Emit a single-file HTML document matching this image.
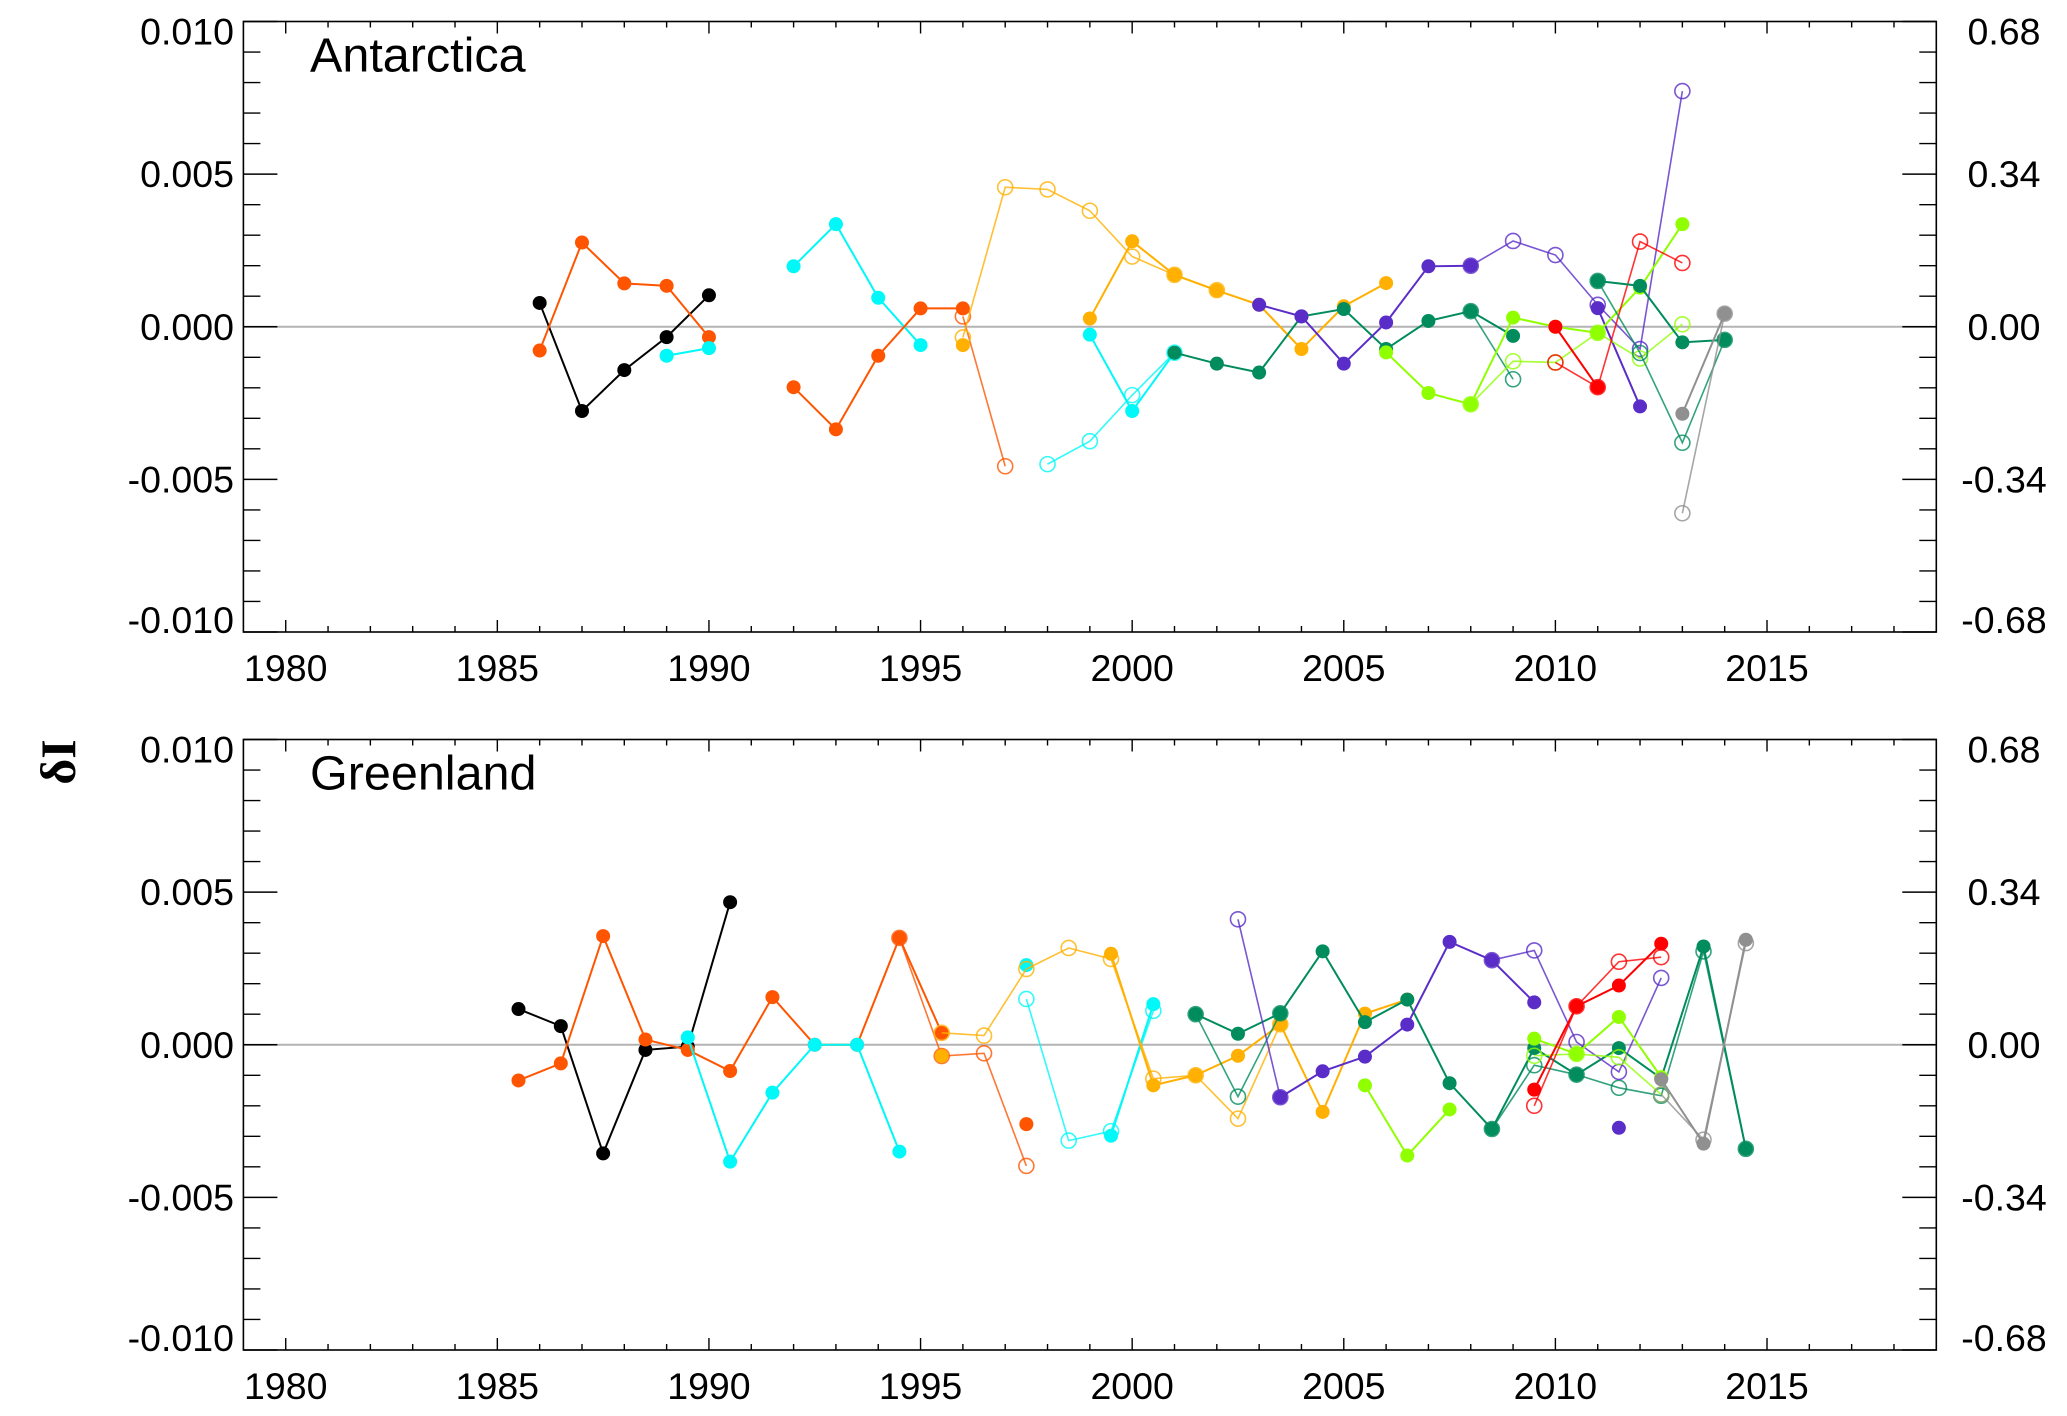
<!DOCTYPE html>
<html><head><meta charset="utf-8">
<style>
html,body{margin:0;padding:0;background:#fff;}
svg{display:block;}
text{font-family:"Liberation Sans",sans-serif;fill:#000;}
</style></head>
<body>
<svg id="chart" width="2067" height="1416" viewBox="0 0 2067 1416" xmlns="http://www.w3.org/2000/svg">
<text transform="translate(58,762) rotate(-90)" text-anchor="middle" dominant-baseline="central" style="font-family:'Liberation Serif',serif;font-weight:bold;font-size:50px;">δI</text>
</svg>
<script>
// ---- axis config ----
const xTickYears = [1980,1985,1990,1995,2000,2005,2010,2015];
const yTickVals = [0.010,0.005,0.000,-0.005,-0.010];
const yTickLabels = ["0.010","0.005","0.000","-0.005","-0.010"];
const rTickLabels = ["0.68","0.34","0.00","-0.34","-0.68"];
const panelTitles = ["Antarctica","Greenland"];

// ---- colours ----
const C = {black:"#000000",orange:"#ff5500",cyan:"#00f8f8",amber:"#ffb000",green:"#008c5c",purple:"#5a2cc8",lime:"#90ff00",red:"#ff0000",gray:"#909090"};

// ---- Antarctica data ----
const antBlackYears=[1986,1987,1988,1989,1990], antBlackVals=[0.00078,-0.00276,-0.00142,-0.00034,0.00103];
const antOrangeAYears=[1986,1987,1988,1989,1990], antOrangeAVals=[-0.00078,0.00276,0.00142,0.00134,-0.00034];
const antCyanAYears=[1989,1990], antCyanAVals=[-0.00095,-0.0007];
const antCyanBYears=[1992,1993,1994,1995], antCyanBVals=[0.00198,0.00336,0.00095,-0.0006];
const antOrangeBYears=[1992,1993,1994,1995,1996], antOrangeBVals=[-0.00198,-0.00336,-0.00095,0.0006,0.0006];
const antOrangeOpenYears=[1996,1997], antOrangeOpenVals=[0.00034,-0.00457];
const antAmberOpenYears=[1996,1997,1998,1999,2000,2001,2002], antAmberOpenVals=[-0.00035,0.00457,0.0045,0.0038,0.0023,0.0017,0.0012];
const antAmberIsoYears=[1996], antAmberIsoVals=[-0.0006];
const antAmberYears=[1999,2000,2001,2002,2003,2004,2005,2006], antAmberVals=[0.00027,0.0028,0.0017,0.00119,0.00072,-0.00073,0.00067,0.00143];
const antCyanOpenYears=[1998,1999,2000,2001], antCyanOpenVals=[-0.0045,-0.00375,-0.00224,-0.00085];
const antCyanCYears=[1999,2000,2001], antCyanCVals=[-0.00026,-0.00276,-0.00085];
const antGreenAYears=[2001,2002,2003,2004,2005,2006,2007,2008,2009], antGreenAVals=[-0.00085,-0.00121,-0.0015,0.00034,0.00058,-0.00073,0.00019,0.00051,-0.0003];
const antGreenOpenAYears=[2008,2009], antGreenOpenAVals=[0.00051,-0.00172];
const antPurpleAYears=[2003,2004,2005,2006,2007,2008], antPurpleAVals=[0.00072,0.00034,-0.00121,0.00014,0.00198,0.002];
const antPurpleOpenYears=[2008,2009,2010,2011,2012,2013], antPurpleOpenVals=[0.002,0.00281,0.00235,0.00072,-0.00073,0.00772];
const antPurpleBYears=[2011,2012], antPurpleBVals=[0.00061,-0.00261];
const antLimeYears=[2006,2007,2008,2009,2010,2011,2012,2013], antLimeVals=[-0.00084,-0.00217,-0.00254,0.0003,0,-0.0002,0.00128,0.00336];
const antLimeOpenYears=[2008,2009,2010,2011,2012,2013], antLimeOpenVals=[-0.00254,-0.00113,-0.00117,-0.0002,-0.00104,0.00008];
const antRedYears=[2010,2011], antRedVals=[0,-0.00198];
const antRedOpenYears=[2010,2011,2012,2013], antRedOpenVals=[-0.00117,-0.00198,0.00279,0.00209];
const antGreenBYears=[2011,2012,2013,2014], antGreenBVals=[0.0015,0.00134,-0.00051,-0.00043];
const antGreenOpenBYears=[2011,2012,2013,2014], antGreenOpenBVals=[0.0015,-0.00086,-0.0038,-0.00043];
const antGrayYears=[2013,2014], antGrayVals=[-0.00285,0.00043];
const antGrayOpenYears=[2013,2014], antGrayOpenVals=[-0.00611,0.00043];

// ---- Greenland data ----
const grnBlackYears=[1985.5,1986.5,1987.5,1988.5,1989.5,1990.5], grnBlackVals=[0.00117,0.00061,-0.00356,-0.00017,-0.00006,0.00467];
const grnOrangeYears=[1985.5,1986.5,1987.5,1988.5,1989.5,1990.5,1991.5,1992.5,1993.5,1994.5,1995.5], grnOrangeVals=[-0.00117,-0.00061,0.00356,0.00017,-0.00017,-0.00086,0.00156,0,0,0.0035,0.00039];
const grnOrangeOpenYears=[1994.5,1995.5,1996.5,1997.5], grnOrangeOpenVals=[0.0035,-0.00037,-0.00028,-0.00397];
const grnOrangeIsoYears=[1997.5], grnOrangeIsoVals=[-0.0026];
const grnCyanYears=[1989.5,1990.5,1991.5,1992.5,1993.5,1994.5], grnCyanVals=[0.00024,-0.00383,-0.00157,0,0,-0.0035];
const grnCyanIsoYears=[1997.5], grnCyanIsoVals=[0.00261];
const grnCyanOpenYears=[1997.5,1998.5,1999.5,2000.5], grnCyanOpenVals=[0.0015,-0.00314,-0.00283,0.00111];
const grnCyanBYears=[1999.5,2000.5], grnCyanBVals=[-0.00298,0.00133];
const grnAmberOpenYears=[1995.5,1996.5,1997.5,1998.5,1999.5,2000.5,2001.5,2002.5,2003.5], grnAmberOpenVals=[0.00039,0.0003,0.00248,0.00317,0.00281,-0.00111,-0.001,-0.00242,0.00067];
const grnAmberIsoYears=[1995.5], grnAmberIsoVals=[-0.00037];
const grnAmberYears=[1999.5,2000.5,2001.5,2002.5,2003.5,2004.5,2005.5,2006.5], grnAmberVals=[0.00298,-0.00133,-0.001,-0.00036,0.00067,-0.0022,0.00102,0.00148];
const grnGreenYears=[2001.5,2002.5,2003.5,2004.5,2005.5,2006.5,2007.5,2008.5,2009.5,2010.5,2011.5,2012.5,2013.5,2014.5], grnGreenVals=[0.001,0.00036,0.00103,0.00306,0.00074,0.00148,-0.00126,-0.00276,-0.00011,-0.00098,-0.00011,-0.0011,0.00322,-0.00341];
const grnGreenOpenAYears=[2001.5,2002.5,2003.5], grnGreenOpenAVals=[0.001,-0.0017,0.00103];
const grnGreenOpenBYears=[2008.5,2009.5,2010.5,2011.5,2012.5,2013.5,2014.5], grnGreenOpenBVals=[-0.00276,-0.00067,-0.00098,-0.00141,-0.00167,0.00306,-0.00341];
const grnPurpleOpenAYears=[2002.5,2003.5], grnPurpleOpenAVals=[0.00411,-0.00172];
const grnPurpleYears=[2003.5,2004.5,2005.5,2006.5,2007.5,2008.5,2009.5], grnPurpleVals=[-0.00172,-0.00087,-0.00039,0.00066,0.00337,0.00277,0.00139];
const grnPurpleOpenBYears=[2008.5,2009.5,2010.5,2011.5,2012.5], grnPurpleOpenBVals=[0.00277,0.00309,0.00009,-0.00089,0.00219];
const grnPurpleIsoYears=[2011.5], grnPurpleIsoVals=[-0.00272];
const grnLimeAYears=[2005.5,2006.5,2007.5], grnLimeAVals=[-0.00133,-0.00363,-0.00212];
const grnLimeBYears=[2009.5,2010.5,2011.5,2012.5], grnLimeBVals=[0.0002,-0.0003,0.00091,-0.00106];
const grnLimeOpenYears=[2009.5,2010.5,2011.5,2012.5], grnLimeOpenVals=[-0.00036,-0.0003,-0.00041,-0.00163];
const grnRedYears=[2009.5,2010.5,2011.5,2012.5], grnRedVals=[-0.00147,0.00126,0.00194,0.00331];
const grnRedOpenYears=[2009.5,2010.5,2011.5,2012.5], grnRedOpenVals=[-0.002,0.00126,0.00272,0.00287];
const grnGrayYears=[2012.5,2013.5,2014.5], grnGrayVals=[-0.00113,-0.00324,0.00344];
const grnGrayOpenYears=[2012.5,2013.5,2014.5], grnGrayOpenVals=[-0.00163,-0.00311,0.00333];

const antSeries=[
 ["black-a",C.black,false,antBlackYears,antBlackVals],
 ["orange-a",C.orange,false,antOrangeAYears,antOrangeAVals],
 ["cyan-a",C.cyan,false,antCyanAYears,antCyanAVals],
 ["cyan-b",C.cyan,false,antCyanBYears,antCyanBVals],
 ["orange-b",C.orange,false,antOrangeBYears,antOrangeBVals],
 ["orange-open",C.orange,true,antOrangeOpenYears,antOrangeOpenVals],
 ["amber-open",C.amber,true,antAmberOpenYears,antAmberOpenVals],
 ["amber-iso",C.amber,false,antAmberIsoYears,antAmberIsoVals],
 ["amber",C.amber,false,antAmberYears,antAmberVals],
 ["cyan-open",C.cyan,true,antCyanOpenYears,antCyanOpenVals],
 ["cyan-c",C.cyan,false,antCyanCYears,antCyanCVals],
 ["green-a",C.green,false,antGreenAYears,antGreenAVals],
 ["green-open-a",C.green,true,antGreenOpenAYears,antGreenOpenAVals],
 ["purple-a",C.purple,false,antPurpleAYears,antPurpleAVals],
 ["purple-open",C.purple,true,antPurpleOpenYears,antPurpleOpenVals],
 ["purple-b",C.purple,false,antPurpleBYears,antPurpleBVals],
 ["lime",C.lime,false,antLimeYears,antLimeVals],
 ["lime-open",C.lime,true,antLimeOpenYears,antLimeOpenVals],
 ["red",C.red,false,antRedYears,antRedVals],
 ["red-open",C.red,true,antRedOpenYears,antRedOpenVals],
 ["green-b",C.green,false,antGreenBYears,antGreenBVals],
 ["green-open-b",C.green,true,antGreenOpenBYears,antGreenOpenBVals],
 ["gray",C.gray,false,antGrayYears,antGrayVals],
 ["gray-open",C.gray,true,antGrayOpenYears,antGrayOpenVals]
];
const grnSeries=[
 ["black",C.black,false,grnBlackYears,grnBlackVals],
 ["orange",C.orange,false,grnOrangeYears,grnOrangeVals],
 ["orange-open",C.orange,true,grnOrangeOpenYears,grnOrangeOpenVals],
 ["orange-iso",C.orange,false,grnOrangeIsoYears,grnOrangeIsoVals],
 ["cyan",C.cyan,false,grnCyanYears,grnCyanVals],
 ["cyan-iso",C.cyan,false,grnCyanIsoYears,grnCyanIsoVals],
 ["cyan-open",C.cyan,true,grnCyanOpenYears,grnCyanOpenVals],
 ["cyan-b",C.cyan,false,grnCyanBYears,grnCyanBVals],
 ["amber-open",C.amber,true,grnAmberOpenYears,grnAmberOpenVals],
 ["amber-iso",C.amber,false,grnAmberIsoYears,grnAmberIsoVals],
 ["amber",C.amber,false,grnAmberYears,grnAmberVals],
 ["green",C.green,false,grnGreenYears,grnGreenVals],
 ["green-open-a",C.green,true,grnGreenOpenAYears,grnGreenOpenAVals],
 ["green-open-b",C.green,true,grnGreenOpenBYears,grnGreenOpenBVals],
 ["purple-open-a",C.purple,true,grnPurpleOpenAYears,grnPurpleOpenAVals],
 ["purple",C.purple,false,grnPurpleYears,grnPurpleVals],
 ["purple-open-b",C.purple,true,grnPurpleOpenBYears,grnPurpleOpenBVals],
 ["purple-iso",C.purple,false,grnPurpleIsoYears,grnPurpleIsoVals],
 ["lime-a",C.lime,false,grnLimeAYears,grnLimeAVals],
 ["lime-b",C.lime,false,grnLimeBYears,grnLimeBVals],
 ["lime-open",C.lime,true,grnLimeOpenYears,grnLimeOpenVals],
 ["red",C.red,false,grnRedYears,grnRedVals],
 ["red-open",C.red,true,grnRedOpenYears,grnRedOpenVals],
 ["gray",C.gray,false,grnGrayYears,grnGrayVals],
 ["gray-open",C.gray,true,grnGrayOpenYears,grnGrayOpenVals]
];

const NS="http://www.w3.org/2000/svg";
const svg=document.getElementById('chart');
const XL=243.4, XR=1936.3, YEAR0=1979, YEAR1=2019;
function xScale(yr){return XL+(yr-YEAR0)/(YEAR1-YEAR0)*(XR-XL);}
function mk(tag,attrs,parent){const e=document.createElementNS(NS,tag);for(const k in attrs)e.setAttribute(k,attrs[k]);(parent||svg).appendChild(e);return e;}

function drawPanel(idx,top,bottom,series,key){
  const g=mk('g',{});
  
  
  const yScale=v=>top+(0.01-v)/0.02*(bottom-top);
  const zy=yScale(0);
  const zl=mk('line',{x1:XL,x2:XR,y1:zy,y2:zy,stroke:'#b4b4b4','stroke-width':2},g);
  
  
  const fr=mk('rect',{x:XL,y:top,width:XR-XL,height:bottom-top,fill:'none',stroke:'#000','stroke-width':1.6},g);
  
  
  for(let v=-10;v<=10;v++){
    const y=yScale(v*0.001);const major=(v%5===0);const L=major?34:17;
    mk('line',{x1:XL,x2:XL+L,y1:y,y2:y,stroke:'#000','stroke-width':1.4},g);
    mk('line',{x1:XR-L,x2:XR,y1:y,y2:y,stroke:'#000','stroke-width':1.4},g);
  }
  for(let yr=1980;yr<=2019;yr++){
    const x=xScale(yr);const major=(yr%5===0);const L=major?12:6;
    mk('line',{x1:x,x2:x,y1:bottom,y2:bottom-L,stroke:'#000','stroke-width':1.4},g);
    mk('line',{x1:x,x2:x,y1:top,y2:top+L,stroke:'#000','stroke-width':1.4},g);
  }
  yTickVals.forEach((v,i)=>{
    let y=yScale(v); if(i===0)y+=10; if(i===yTickVals.length-1)y-=12;
    const t=mk('text',{x:234,y:y,'text-anchor':'end','dominant-baseline':'central','font-size':37.5},g);
    t.textContent=yTickLabels[i];
    
    
    const r=mk('text',{x:2004,y:y,'text-anchor':'middle','dominant-baseline':'central','font-size':37.5},g);
    r.textContent=rTickLabels[i];
    
    
  });
  xTickYears.forEach(yr=>{
    const t=mk('text',{x:xScale(yr),y:bottom+36,'text-anchor':'middle','dominant-baseline':'central','font-size':37.5},g);
    t.textContent=String(yr);
    
    
  });
  const tt=mk('text',{x:310,y:top+50,'font-size':48.5},g);
  tt.textContent=panelTitles[idx];
  
  
  series.forEach(s=>{
    const [nm,col,open,yrs,vals]=s;
    const sg=mk('g',{},g);
    
    
    if(yrs.length>1){
      const pts=yrs.map((yr,i)=>xScale(yr)+','+yScale(vals[i])).join(' ');
      const pl=mk('polyline',{points:pts,fill:'none',stroke:col,'stroke-width':open?1.6:2,'stroke-opacity':open?0.8:1},sg);
      
      
    }
    yrs.forEach((yr,i)=>{
      const c=mk('circle',{cx:xScale(yr),cy:yScale(vals[i]),r:open?7.5:7,fill:open?'none':col,stroke:col,'stroke-width':open?1.6:0,'stroke-opacity':open?0.8:1},sg);
      
      
    });
  });
}
drawPanel(0,21.5,632,antSeries,'antarctica');
drawPanel(1,739.5,1350,grnSeries,'greenland');
</script>
</body></html>
